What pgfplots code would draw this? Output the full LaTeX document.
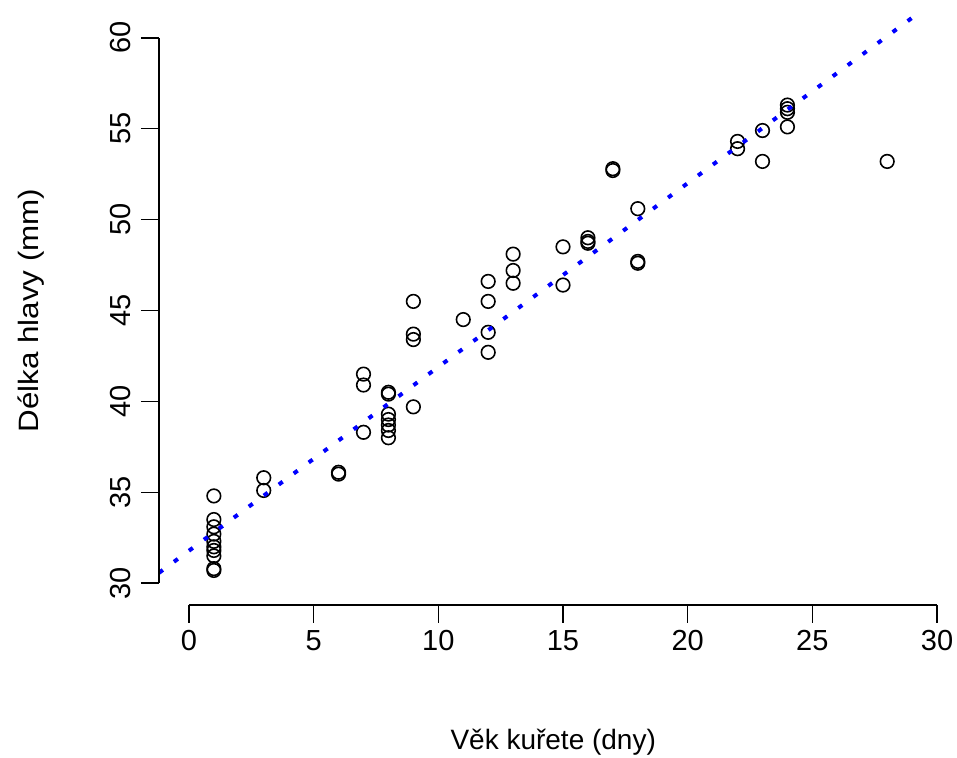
\documentclass[border=0pt]{standalone}
\usepackage{pgfplots}
\pgfplotsset{compat=1.18}
\usepackage{fontspec}
\setmainfont{Liberation Sans}
\usepackage{graphicx}

\pgfplotstableread{
x y
1 34.8
1 33.5
1 33.1
1 32.7
1 32.3
1 32.0
1 31.8
1 31.5
1 30.8
1 30.7
3 35.8
3 35.1
6 36.0
6 36.1
7 41.5
7 40.9
7 38.3
8 40.5
8 40.4
8 39.3
8 39.0
8 38.7
8 38.4
8 38.0
9 45.5
9 43.7
9 43.4
9 39.7
11 44.5
12 46.6
12 45.5
12 43.8
12 42.7
13 48.1
13 47.2
13 46.5
15 48.5
15 46.4
16 49.0
16 48.8
16 48.7
17 52.8
17 52.7
18 50.6
18 47.7
18 47.6
22 54.3
22 53.9
23 54.9
23 53.2
24 56.3
24 56.1
24 55.9
24 55.1
28 53.2
}\kurata

\begin{document}
\fontsize{14pt}{17pt}\selectfont
\begin{tikzpicture}
\begin{axis}[
    scale only axis, width=399pt, height=294.5pt,
    xmin=-1.2, xmax=30.8, ymin=28.8, ymax=61.2,
    xtick={0,5,...,30}, ytick={30,35,...,60},
    axis line style={draw=none},
    tick pos=left, tick align=outside, major tick length=9pt,
    every tick/.style={black, line width=0.75pt},
    /pgf/number format/assume math mode=true,
    tick label style={font=\fontsize{14.5pt}{17pt}\selectfont},
    xticklabel style={yshift=1pt},
    yticklabel style={rotate=90, anchor=south},
    clip mode=individual,
    xlabel={Věk kuřete (dny)},
    ylabel={\scalebox{1.12}[1]{Délka hlavy (mm)}},
    xlabel style={at={(axis description cs:0.494,-0.2326)}, anchor=center, font=\fontsize{14pt}{17pt}\selectfont},
    ylabel style={at={(axis description cs:-0.160,0.5)}, anchor=center, font=\fontsize{14pt}{17pt}\selectfont},
]
\addplot[only marks, mark=o, mark size=3.4pt, mark options={line width=0.8pt, black}] table {\kurata};
\addplot[blue, line width=2pt, line cap=butt, dash pattern=on 2.4pt off 6.9pt] coordinates {(-1.2,30.57) (30.8,62.92)};
\draw[line width=0.75pt] (axis cs:0,28.8) -- (axis cs:30,28.8);
\draw[line width=0.75pt] (axis cs:-1.2,30) -- (axis cs:-1.2,60);
\end{axis}
\pgfresetboundingbox
\path ([shift={(-79.5pt,-76.5pt)}]current axis.south west) rectangle ++(478.5pt,379pt);
\end{tikzpicture}
\end{document}
